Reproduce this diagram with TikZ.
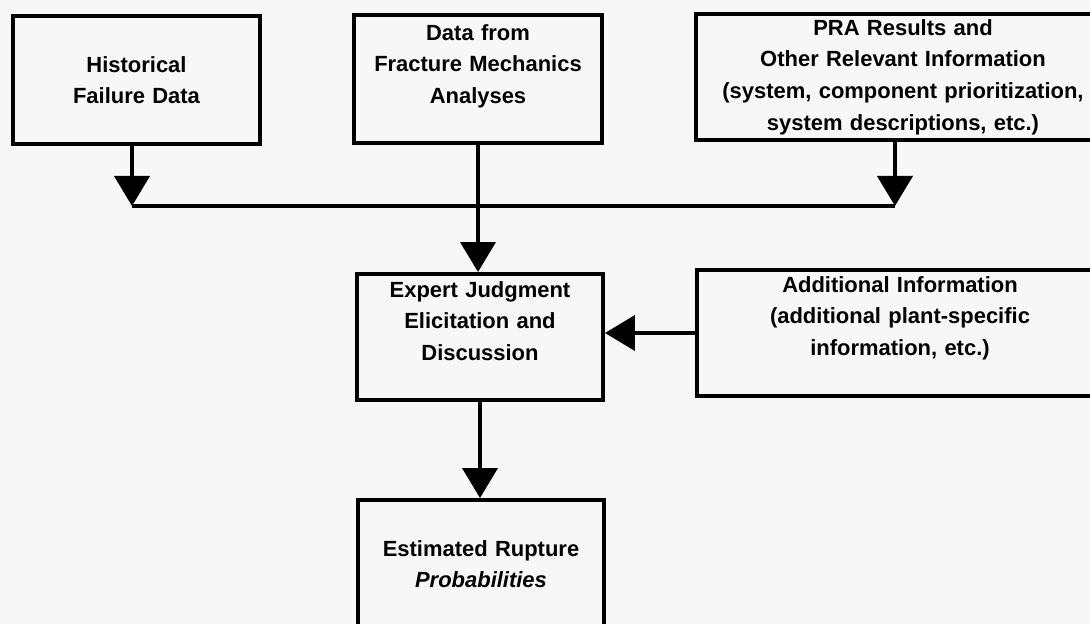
\documentclass[tikz,border=0pt]{standalone}
\usepackage{fontspec}
\setmainfont{Liberation Sans}
\usepackage{tikz}
\usepackage{xcolor}
\usetikzlibrary{arrows.meta}
\definecolor{paper}{HTML}{F7F7F7}

\begin{document}
\begin{tikzpicture}
[x=0.02cm,y=-0.02cm,
      font=\fontsize{12.5}{18}\selectfont\bfseries,
      box/.style={draw,line width=0.08cm,inner sep=0pt,align=center},
      flow/.style={line width=0.08cm,-{Triangle[width=0.7cm,length=0.6cm]}}]
 \fill[paper] (0,0) rectangle (1090,624);
 \useasboundingbox (0,0) rectangle (1090,624);
 % sources
 \node[box,text width=4.94cm,minimum height=2.56cm] (hist) at (136.5,80)
   {Historical\\Failure Data};
 \node[box,text width=4.96cm,text height=0.5cm,text depth=2.06cm] (frac) at (478,79)
   {Data from\\Fracture Mechanics\\Analyses};
 \node[box,text width=8.28cm,minimum height=2.52cm] (pra) at (903,77)
   {PRA Results and\\Other Relevant Information\\(system, component prioritization,\\system descriptions, etc.)};
 % elicitation
 \node[box,text width=4.92cm,text height=0.46cm,text depth=2.06cm] (expert) at (480,337)
   {Expert Judgment\\Elicitation and\\Discussion};
 \node[box,text width=8.12cm,text height=0.44cm,text depth=2.08cm] (addl) at (900,333)
   {Additional Information\\(additional plant-specific\\information, etc.)};
 \node[box,text width=4.92cm,minimum height=2.56cm] (est) at (481,564)
   {Estimated Rupture\\{\itshape Probabilities}};
 % connectors
 \coordinate (busL) at (132,206);
 \coordinate (busR) at (895,206);
 \draw[flow] (hist.south -| busL) -- (busL);
 \draw[flow] (pra.south -| busR) -- (busR);
 \draw[line width=0.08cm] (busL) -- (busR);
 \draw[flow] (frac.south) -- (frac.south |- expert.north);
 \draw[flow] (addl.west) -- (addl.west -| expert.east);
 \draw[flow] (expert.south) -- (expert.south |- est.north);
\end{tikzpicture}
\end{document}
